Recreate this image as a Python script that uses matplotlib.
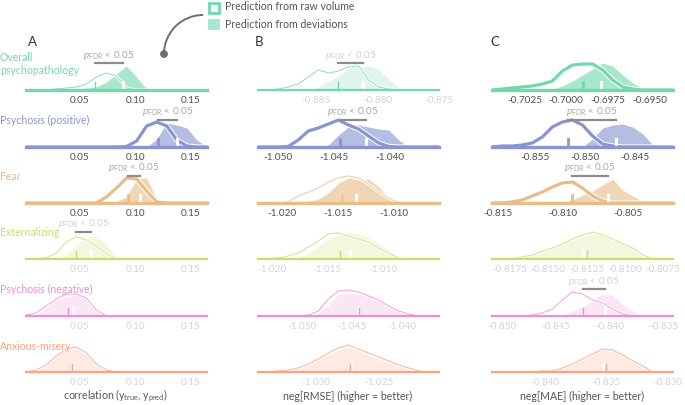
import numpy as np
import matplotlib
matplotlib.use("Agg")
import matplotlib.pyplot as plt
import matplotlib.patheffects as pe
from matplotlib.patches import Arc, Rectangle, Circle

plt.rcParams['font.family'] = ['Lato', 'DejaVu Sans']
plt.rcParams['axes.unicode_minus'] = False
plt.rcParams['mathtext.fontset'] = 'custom'
plt.rcParams['mathtext.rm'] = 'Lato'
plt.rcParams['mathtext.it'] = 'Lato:italic'

# ---- data ---------------------------------------------------------------
rows = ["Overall\npsychopathology", "Psychosis (positive)", "Fear",
        "Externalizing", "Psychosis (negative)", "Anxious-misery"]
colors = ["#72d9ab", "#8995d3", "#e9bd88", "#c6df6c", "#ef8fd2", "#fca27e"]

# x-ranges of the density grids (19 points each)
a_lims = [(0.0014, 0.1644)] * 6
b_lims = [(-0.88973, -0.8750), (-1.05178, -1.03557), (-1.02216, -1.00595),
          (-1.02127, -1.00491), (-1.0544, -1.0363), (-1.0346, -1.0203)]
c_lims = [(-0.70445, -0.69359), (-0.8593, -0.8412), (-0.81546, -0.80154),
          (-0.81868, -0.80685), (-0.85093, -0.83417), (-0.84431, -0.82959)]

a_ticks = [[0.05, 0.10, 0.15]] * 6
b_ticks = [[-0.885, -0.880, -0.875], [-1.050, -1.045, -1.040],
           [-1.020, -1.015, -1.010], [-1.020, -1.015, -1.010],
           [-1.050, -1.045, -1.040], [-1.030, -1.025]]
c_ticks = [[-0.7025, -0.7000, -0.6975, -0.6950], [-0.855, -0.850, -0.845],
           [-0.815, -0.810, -0.805], [-0.8175, -0.8150, -0.8125, -0.8100, -0.8075],
           [-0.850, -0.845, -0.840, -0.835], [-0.840, -0.835, -0.830]]
a_fmt = ["%.2f"] * 6
b_fmt = ["%.3f"] * 6
c_fmt = ["%.4f", "%.3f", "%.3f", "%.4f", "%.3f", "%.3f"]

# density estimates (raw volume / deviations)
a_raw = [[0, 0, 0, 1, 2, 3, 6, 13, 17, 14, 2, 0, 0, 0, 0, 0, 0, 0, 0],
         [0, 0, 0, 0, 0, 0, 0, 0, 0, 0, 0.5, 6, 21, 25, 21, 7, 1, 0, 0],
         [0, 0, 0, 0, 0, 0, 0, 0, 6, 15, 25, 24, 12, 1, 0, 0, 0, 0, 0],
         [0, 0, 1, 6, 17, 22, 19, 13, 5, 0, 0, 0, 0, 0, 0, 0, 0, 0, 0],
         [1, 3, 10, 17, 22, 22, 18, 6, 0, 0, 0, 0, 0, 0, 0, 0, 0, 0, 0],
         [0, 2, 7, 16, 23, 25, 19, 8, 2, 0, 0, 0, 0, 0, 0, 0, 0, 0, 0]]
a_dev = [[0, 0, 0, 0, 0, 0.5, 2, 3, 8, 16, 24, 13, 1, 0, 0, 0, 0, 0, 0],
         [0, 0, 0, 0, 0, 0, 0, 0, 0, 0, 0, 0, 0, 8, 24, 22, 19, 7, 0],
         [0, 0, 0, 0, 0, 0, 0, 0, 0, 2, 6, 24, 25, 4, 0, 0, 0, 0, 0],
         [0, 0, 0, 1, 4, 14, 22, 23, 14, 2, 0, 0, 0, 0, 0, 0, 0, 0, 0],
         [0, 1, 8, 16, 19, 21, 18, 8, 0, 0, 0, 0, 0, 0, 0, 0, 0, 0, 0],
         [0, 1, 6, 16, 23, 23, 17, 6, 1, 0, 0, 0, 0, 0, 0, 0, 0, 0, 0]]
b_raw = [[0, 0, 1, 3, 6, 13, 20, 17, 19, 23, 24, 10, 3, 1, 0, 0, 0, 0, 0],
         [0, 0, 0, 0.5, 7, 16, 19, 23, 27, 22, 18, 11, 4, 0.5, 0, 0, 0, 0, 0],
         [0, 0, 0, 1, 7, 11, 15, 21, 25, 27, 25, 19, 11, 5, 0, 0, 0, 0, 0],
         [0, 0, 1, 3, 6, 12, 18, 25, 26, 23, 20, 17, 11, 6, 1, 0, 0, 0, 0],
         [0, 0, 0, 0, 0, 1, 5, 17, 25, 26, 24, 20, 16, 10, 5, 2, 0, 0, 0],
         [0, 0, 1, 2, 4, 8, 13, 19, 24, 27, 23, 19, 15, 11, 7, 4, 1, 0, 0]]
b_dev = [[0, 0, 0, 0, 0, 0, 3, 9, 14, 22, 23, 24, 21, 11, 2, 0, 0, 0, 0],
         [0, 0, 0, 0, 0, 0, 0, 2, 12, 20, 22, 20, 18, 17, 7, 0, 0, 0, 0],
         [0, 0, 0, 0, 1, 2, 4, 10, 20, 25, 23, 24, 16, 6, 2, 0, 0, 0, 0],
         [0, 0, 0, 0, 2, 6, 13, 20, 24, 27, 25, 21, 16, 8, 1, 0, 0, 0, 0],
         [0, 0, 0, 0, 0, 0, 3, 11, 22, 23, 22, 20, 15, 9, 4, 1, 0, 0, 0],
         [0, 0, 0, 1, 4, 8, 13, 18, 22, 25, 22, 17, 13, 9, 6, 2, 0, 0, 0]]
c_raw = [[0, 1, 2, 3, 4, 6, 9, 19, 25, 26, 26, 20, 10, 3, 1, 0, 0, 0, 0],
         [0, 1, 1, 2, 4, 10, 20, 25, 27, 22, 11, 3, 1, 0, 0, 0, 0, 0, 0],
         [0, 0, 1, 3, 7, 11, 16, 20, 21, 15, 7, 2, 0, 0, 0, 0, 0, 0, 0],
         [0, 0, 0, 2, 4, 8, 11, 15, 20, 24, 27, 24, 20, 15, 11, 4, 0, 0, 0],
         [0, 0, 0, 0, 1, 3, 7, 16, 24, 22, 16, 13, 7, 2, 0, 0, 0, 0, 0],
         [0, 0, 0, 0, 0, 1, 1, 4, 8, 13, 18, 23, 22, 17, 11, 6, 0, 0, 0]]
c_dev = [[0, 0, 0, 0, 0, 0, 1, 4, 9, 15, 21, 27, 24, 15, 7, 1, 0, 0, 0],
         [0, 0, 0, 0, 0, 0, 0, 0, 0, 0, 8, 19, 22, 23, 20, 13, 2, 0, 0],
         [0, 0, 0, 0, 0, 0, 0, 0, 3, 8, 12, 18, 24, 13, 7, 2, 0, 0, 0],
         [0, 0, 0, 3, 5, 8, 12, 17, 20, 23, 26, 24, 20, 16, 10, 4, 0, 0, 0],
         [0, 0, 0, 0, 0, 0, 0, 1, 5, 9, 15, 22, 21, 11, 5, 1, 0, 0, 0],
         [0, 0, 0, 0, 0, 0, 2, 5, 9, 15, 20, 25, 22, 16, 10, 6, 1, 0, 0]]

# medians
a_raw_med = [0.0635, 0.1203, 0.0933, 0.0464, 0.0392, 0.0428]
a_dev_med = [0.0888, 0.1374, 0.1041, 0.0599, 0.0437, 0.0437]
b_raw_med = [-0.88318, -1.04440, -1.01460, -1.01382, -1.04434, -1.02737]
b_dev_med = [-0.88122, -1.04214, -1.01342, -1.01291, -1.04444, -1.02729]
c_raw_med = [-0.69899, -0.8517, -0.80927, -0.81250, -0.84246, -0.83507]
c_dev_med = [-0.69791, -0.8469, -0.80657, -0.81270, -0.84050, -0.83531]

# significance of each model vs null, and raw-vs-deviation test
a_raw_sig = [False, True, True, False, False, False]
a_dev_sig = [True, True, True, False, False, False]
a_diff = [True, True, True, True, False, False]
b_raw_sig = [False, True, False, False, False, False]
b_dev_sig = [False, True, True, False, False, False]
b_diff = [True, True, False, False, False, False]
c_raw_sig = [True, True, True, False, False, False]
c_dev_sig = [True, True, True, False, False, False]
c_diff = [False, True, True, False, True, False]

columns = [
    (a_lims, a_ticks, a_fmt, a_raw, a_dev, a_raw_med, a_dev_med, a_raw_sig, a_dev_sig, a_diff),
    (b_lims, b_ticks, b_fmt, b_raw, b_dev, b_raw_med, b_dev_med, b_raw_sig, b_dev_sig, b_diff),
    (c_lims, c_ticks, c_fmt, c_raw, c_dev, c_raw_med, c_dev_med, c_raw_sig, c_dev_sig, c_diff),
]

# ---- layout (pixels) ----------------------------------------------------
W, H = 685, 405
col_left = [26, 258, 492]
col_width = 181
row_base = [90, 147, 203, 259, 316, 372]
ax_h = 30

fig = plt.figure(figsize=(W / 100, H / 100), dpi=100)

for ci, (lims, ticks, fmts, raws, devs, rmed, dmed, rsig, dsig, diff) in enumerate(columns):
    for ri in range(6):
        col = colors[ri]
        ax = fig.add_axes([col_left[ci] / W, 1 - row_base[ri] / H, col_width / W, ax_h / H])
        lo, hi = lims[ri]
        x = np.linspace(lo, hi, len(raws[ri]))
        ax.set_xlim(lo, hi)
        ax.set_ylim(0, ax_h)
        for s in ax.spines.values():
            s.set_visible(False)
        ax.patch.set_alpha(0)
        ax.set_yticks([])
        strong = rsig[ri] or dsig[ri]

        # deviations: filled
        ax.fill_between(x, devs[ri], color=col, alpha=0.62 if dsig[ri] else 0.22, lw=0, zorder=2)
        # raw volume: outline
        lw = 2.3 if rsig[ri] else 0.8
        ax.plot(x, raws[ri], color=col, lw=lw, alpha=1 if rsig[ri] else 0.75, zorder=3,
                solid_capstyle='round',
                path_effects=[pe.Stroke(linewidth=lw + 1.4, foreground='white'), pe.Normal()])
        # medians
        ax.plot([dmed[ri]] * 2, [0, 8], color='white', lw=2.2, zorder=4)
        ax.plot([rmed[ri]] * 2, [0, 8], color=col, lw=2 if rsig[ri] else 1, zorder=4)
        # baseline
        ax.axhline(0, color=col, lw=2.4 if strong else 1.6, zorder=5, clip_on=False)

        ax.set_xticks(ticks[ri])
        ax.set_xticklabels([fmts[ri] % t for t in ticks[ri]])
        ax.tick_params(axis='x', length=0, pad=4, labelsize=7.2,
                       labelcolor='#505050' if strong else '#d4d4d4')

        if diff[ri]:
            lo_m, hi_m = sorted([rmed[ri], dmed[ri]])
            ax.plot([lo_m, hi_m], [27, 27], color='#8c8c8c', lw=1.6, clip_on=False, zorder=6)
            ax.text((lo_m + hi_m) / 2, 28.5, r'$p_{\mathrm{FDR}}$ < 0.05', ha='center', va='bottom',
                    fontsize=7.2, color='#a8a8a8' if strong else '#d0d0d0', clip_on=False)

# ---- labels, legend, annotation arrow --------------------------------
ov = fig.add_axes([0, 0, 1, 1])
ov.set_xlim(0, W)
ov.set_ylim(H, 0)
ov.axis('off')

label_y = [64, 120, 176, 232, 289, 346]
for ri, name in enumerate(rows):
    ov.text(0, label_y[ri], name, color=colors[ri], fontsize=7.6, ha='left', va='center',
            linespacing=1.25)

for lx, letter in zip([32, 259, 495], "ABC"):
    ov.text(lx, 42, letter, fontsize=9.5, color='#333333', ha='center', va='center')

xlabels = [r'correlation (y$_{\mathrm{true}}$, y$_{\mathrm{pred}}$)',
           'neg[RMSE] (higher = better)', 'neg[MAE] (higher = better)']
for lx, lab in zip([115, 348, 582], xlabels):
    ov.text(lx, 396, lab, fontsize=7.6, color='#555555', ha='center', va='center')

ov.add_patch(Rectangle((209, 3), 10, 10, fill=False, edgecolor=colors[0], lw=2))
ov.add_patch(Rectangle((208, 19), 12, 11, facecolor=colors[0], alpha=0.62, lw=0))
ov.text(225, 7, 'Prediction from raw volume', fontsize=7.6, color='#555555', va='center')
ov.text(225, 25, 'Prediction from deviations', fontsize=7.6, color='#555555', va='center')

ov.add_patch(Arc((203, 54), 78, 78, theta1=180, theta2=270, color='#6e6e6e', lw=1.4))
ov.add_patch(Circle((164, 54), 3.2, color='#6e6e6e'))

fig.savefig("out.png", dpi=100)
